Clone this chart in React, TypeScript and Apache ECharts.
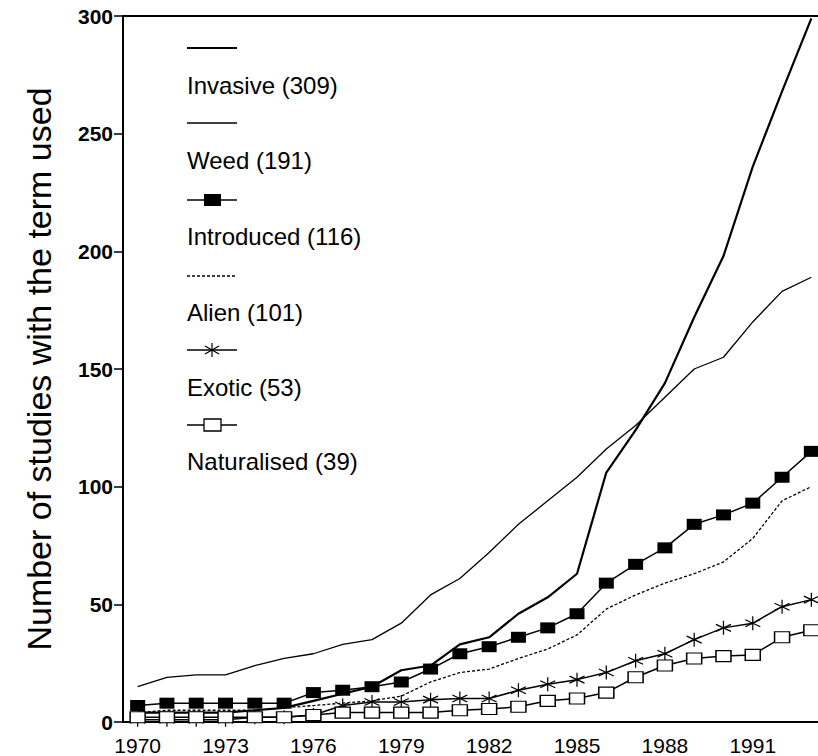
import React, { useEffect, useRef } from "react";
import * as echarts from "echarts";

const years = ["1970","1971","1972","1973","1974","1975","1976","1977","1978","1979","1980","1981","1982","1983","1984","1985","1986","1987","1988","1989","1990","1991","1992","1993"];
const invasive = [4,4,4,4,5,6,9,12,15,22,24,33,36,46,53,63,106,124,144,172,198,236,268,299];
const weed = [15,19,20,20,24,27,29,33,35,42,54,61,72,84,94,104,116,126,138,150,155,170,183,189];
const introduced = [7,8,8,8,8,8,12.5,13.5,15,17,22.5,29,32,36,40,46,59,67,74,84,88,93,104,115];
const alien = [4,5,5,5,5,6,7,8,9,11,17,21,22.5,27,31,37,48,54,59,63,68,78,94,100];
const exotic = [1,1,1,1,2,2,3,7,8.5,8.5,9.5,10,10,13.5,16,18,21,26,29,35,40,42,49,52];
const naturalised = [2,2,2,2,2,2,3,4,4,4,4,5,5.5,6.5,9,10,12.5,19,24,27,28,28.5,36,39];
const legendLabels = ["Invasive (309)","Weed (191)","Introduced (116)","Alien (101)","Exotic (53)","Naturalised (39)"];
const yTicks = [0, 50, 100, 150, 200, 250, 300];

const FONT = "'Liberation Sans', Arial, Helvetica, sans-serif";
const ASTERISK = "path://M5,0L5,10M0.7,2.5L9.3,7.5M0.7,7.5L9.3,2.5";

export default function App() {
  const ref = useRef<HTMLDivElement>(null);
  useEffect(() => {
    if (!ref.current) return;
    const chart = echarts.init(ref.current, null, { renderer: "svg" });
    const lx = 187, lw = 50;
    const symY = [48, 123, 200, 276, 350, 425];
    const txtY = [85, 160, 236, 312, 387, 461];
    const graphics: any[] = [];
    legendLabels.forEach((lab, i) => {
      const ls: any = { stroke: "#000", lineWidth: i === 0 ? 2 : 1.3 };
      if (i === 3) ls.lineDash = [3, 2];
      graphics.push({ type: "line", shape: { x1: lx, y1: symY[i], x2: lx + lw, y2: symY[i] }, style: ls, z: 100 });
      if (i === 2) graphics.push({ type: "rect", shape: { x: lx + 17, y: symY[i] - 6, width: 17, height: 12 }, style: { fill: "#000" }, z: 101 });
      if (i === 5) graphics.push({ type: "rect", shape: { x: lx + 17, y: symY[i] - 6, width: 17, height: 12 }, style: { fill: "#fff", stroke: "#000", lineWidth: 1.3 }, z: 101 });
      if (i === 4) {
        const cx = lx + 25, cy = symY[i];
        graphics.push({ type: "line", shape: { x1: cx, y1: cy - 7, x2: cx, y2: cy + 7 }, style: { stroke: "#000", lineWidth: 1.2 }, z: 101 });
        graphics.push({ type: "line", shape: { x1: cx - 7, y1: cy - 4, x2: cx + 7, y2: cy + 4 }, style: { stroke: "#000", lineWidth: 1.2 }, z: 101 });
        graphics.push({ type: "line", shape: { x1: cx - 7, y1: cy + 4, x2: cx + 7, y2: cy - 4 }, style: { stroke: "#000", lineWidth: 1.2 }, z: 101 });
      }
      graphics.push({ type: "text", x: lx, y: txtY[i], style: { text: lab, font: `24px ${FONT}`, fill: "#000", textVerticalAlign: "middle", verticalAlign: "middle" }, z: 100 });
    });

    const base = { type: "line", animation: false, z: 3 };
    chart.setOption({
      animation: false,
      backgroundColor: "#fff",
      grid: { left: 123, right: 0, top: 16, bottom: 34, show: true, borderColor: "#000", borderWidth: 2, backgroundColor: "transparent" },
      xAxis: {
        type: "category",
        data: years,
        boundaryGap: true,
        axisLine: { lineStyle: { color: "#000", width: 2 } },
        axisTick: { alignWithLabel: true, interval: 0, length: 9, lineStyle: { color: "#000", width: 2 } },
        axisLabel: { interval: 2, color: "#000", fontSize: 21, fontFamily: FONT, margin: 13 },
        splitLine: { show: false },
      },
      yAxis: {
        type: "value",
        min: yTicks[0],
        max: yTicks[yTicks.length - 1],
        interval: 50,
        name: "Number of studies with the term used",
        nameLocation: "middle",
        nameGap: 67,
        nameTextStyle: { fontSize: 34, fontFamily: FONT, color: "#000" },
        axisLine: { show: true, lineStyle: { color: "#000", width: 2 } },
        axisTick: { show: true, length: 9, lineStyle: { color: "#000", width: 1.5 } },
        axisLabel: { color: "#000", fontSize: 21, fontWeight: "bold", fontFamily: FONT, margin: 10 },
        splitLine: { show: false },
      },
      graphic: graphics,
      series: [
        { ...base, name: "Invasive", data: invasive, symbol: "none", lineStyle: { color: "#000", width: 2.2 } },
        { ...base, name: "Weed", data: weed, symbol: "none", lineStyle: { color: "#000", width: 1.3 } },
        { ...base, name: "Alien", data: alien, symbol: "none", lineStyle: { color: "#000", width: 1.3, type: [3, 2] } },
        { ...base, name: "Introduced", data: introduced, symbol: "rect", symbolSize: [15, 11], itemStyle: { color: "#000" }, lineStyle: { color: "#000", width: 1.5 } },
        { ...base, name: "Exotic", data: exotic, symbol: ASTERISK, symbolSize: [15, 14], symbolKeepAspect: false, itemStyle: { color: "rgba(0,0,0,0)", borderColor: "#000", borderWidth: 1.2 }, lineStyle: { color: "#000", width: 1.5 } },
        { ...base, name: "Naturalised", data: naturalised, symbol: "rect", symbolSize: [15, 11], itemStyle: { color: "#fff", borderColor: "#000", borderWidth: 1.3 }, lineStyle: { color: "#000", width: 1.5 } },
      ],
    });
    return () => chart.dispose();
  }, []);
  return (
    <div style={{ position: "absolute", left: 0, top: 0, width: 818, height: 756, overflow: "hidden", background: "#fff" }}>
      <div ref={ref} style={{ position: "absolute", left: 0, top: 0, width: 826, height: 756 }} />
    </div>
  );
}
